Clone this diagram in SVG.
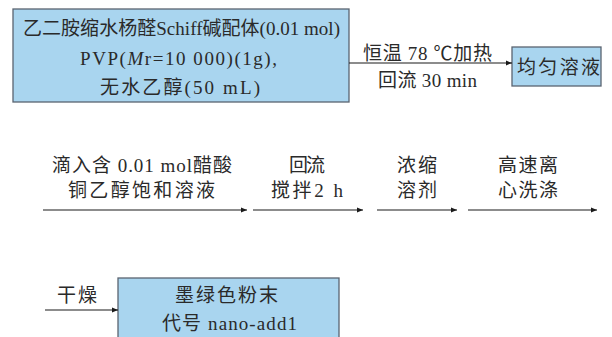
<svg xmlns="http://www.w3.org/2000/svg" width="612" height="337" viewBox="0 0 612 337">
<defs>
<marker id="ah" viewBox="0 0 10 10" refX="10" refY="5" markerWidth="6" markerHeight="6" markerUnits="userSpaceOnUse" orient="auto">
<path d="M0,1 L10,5 L0,9 Z" fill="#1a1a1a"/>
</marker>
<style>
.box{fill:#a9d5ef;stroke:#5a6470;stroke-width:1.3}
.t{font-family:"Liberation Serif","Noto Sans CJK SC",serif;font-size:19px;fill:#2a2a2a;text-anchor:middle;dominant-baseline:central}
.ln{stroke:#1a1a1a;stroke-width:1.2;fill:none;marker-end:url(#ah)}
</style>
</defs>
<rect width="612" height="337" fill="#ffffff"/>
<g id="node-start">
<rect class="box" x="13" y="9" width="336" height="93"/>
<text class="t" x="181.5" y="28" textLength="317" lengthAdjust="spacing">乙二胺缩水杨醛Schiff碱配体(0.01 mol)</text>
<text class="t" x="178.5" y="58" textLength="197" lengthAdjust="spacing">PVP(<tspan font-style="italic">M</tspan>r=10 000)(1g),</text>
<text class="t" x="180" y="87" textLength="160" lengthAdjust="spacing">无水乙醇(50 mL)</text>
</g>
<g id="node-solution">
<rect class="box" x="512" y="47" width="89" height="39"/>
<text class="t" x="558.5" y="67" textLength="83" lengthAdjust="spacing">均匀溶液</text>
</g>
<g id="node-product">
<rect class="box" x="118" y="278" width="221" height="70"/>
<text class="t" x="226.5" y="295" textLength="103" lengthAdjust="spacing">墨绿色粉末</text>
<text class="t" x="229.5" y="323" textLength="135" lengthAdjust="spacing">代号 nano-add1</text>
</g>
<g id="connectors">
<line class="ln" x1="349" y1="63" x2="512" y2="63"/>
<line class="ln" x1="43" y1="210" x2="247" y2="210"/>
<line class="ln" x1="253" y1="210" x2="363" y2="210"/>
<line class="ln" x1="377" y1="210" x2="457" y2="210"/>
<line class="ln" x1="468" y1="210" x2="597" y2="210"/>
<line class="ln" x1="45" y1="310" x2="118" y2="310"/>
</g>
<g id="labels">
<text class="t" x="427.5" y="53" textLength="129" lengthAdjust="spacing">恒温 78 ℃加热</text>
<text class="t" x="427.5" y="80" textLength="99" lengthAdjust="spacing">回流 30 min</text>
<text class="t" x="142" y="165" textLength="180" lengthAdjust="spacing">滴入含 0.01 mol醋酸</text>
<text class="t" x="141.5" y="190" textLength="147" lengthAdjust="spacing">铜乙醇饱和溶液</text>
<text class="t" x="307" y="165" textLength="36" lengthAdjust="spacing">回流</text>
<text class="t" x="307" y="190" textLength="72" lengthAdjust="spacing">搅拌2 h</text>
<text class="t" x="417" y="165" textLength="40" lengthAdjust="spacing">浓缩</text>
<text class="t" x="417" y="190" textLength="40" lengthAdjust="spacing">溶剂</text>
<text class="t" x="528" y="165" textLength="60" lengthAdjust="spacing">高速离</text>
<text class="t" x="528" y="190" textLength="60" lengthAdjust="spacing">心洗涤</text>
<text class="t" x="77" y="295" textLength="40" lengthAdjust="spacing">干燥</text>
</g>
</svg>
